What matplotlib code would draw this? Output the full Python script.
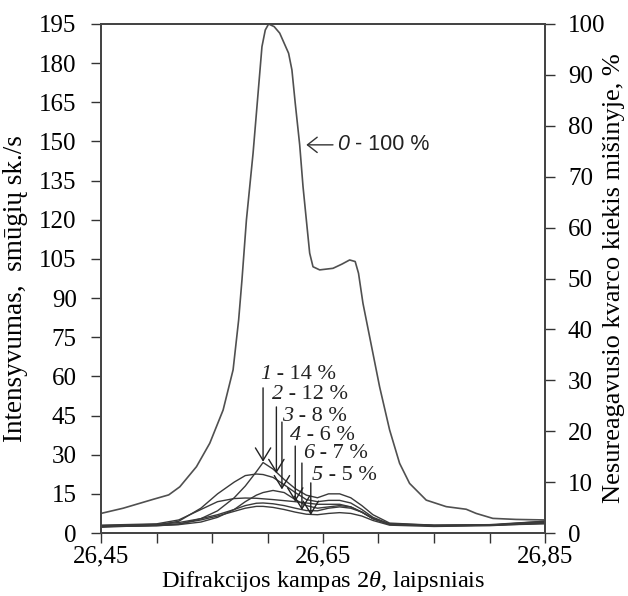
import numpy as np
import matplotlib
matplotlib.use("Agg")
import matplotlib.pyplot as plt

plt.rcParams['font.family'] = ['Liberation Serif', 'DejaVu Serif']
plt.rcParams['mathtext.fontset'] = 'custom'
plt.rcParams['mathtext.rm'] = 'Liberation Serif'
plt.rcParams['mathtext.it'] = 'Liberation Serif:italic'

# ---- data ----
x_0 = [26.450, 26.470, 26.497, 26.511, 26.521, 26.536, 26.548, 26.560, 26.569, 26.574,
       26.577, 26.581, 26.587, 26.592, 26.595, 26.598, 26.601, 26.606, 26.611, 26.619,
       26.622, 26.625, 26.629, 26.632, 26.635, 26.638, 26.641, 26.647, 26.659, 26.667,
       26.674, 26.679, 26.682, 26.686, 26.692, 26.701, 26.710, 26.719, 26.728, 26.743,
       26.761, 26.779, 26.788, 26.803, 26.824, 26.850]
y_0 = [7.5, 9.5, 12.9, 14.6, 17.7, 25.4, 34.4, 47.1, 62.5, 81.6,
       97.0, 119.9, 145.5, 171.0, 186.3, 192.7, 195.0, 194.0, 191.5, 183.8,
       177.4, 164.6, 148.7, 132.7, 119.9, 107.2, 102.0, 100.8, 101.4, 103.0,
       104.6, 104.0, 99.5, 88.0, 75.2, 56.0, 39.5, 26.7, 19.0, 12.6,
       10.1, 9.1, 7.5, 5.6, 5.2, 5.0]

x_s = [26.45, 26.50, 26.52, 26.54, 26.555, 26.57, 26.58, 26.59, 26.596, 26.605,
       26.615, 26.625, 26.635, 26.645, 26.655, 26.665, 26.675, 26.685, 26.695, 26.71,
       26.75, 26.80, 26.85]
y_1 = [2.5, 2.8, 3.3, 5.5, 8.5, 13.5, 18.0, 23.5, 27.0, 24.5,
       20.5, 17.0, 14.5, 13.5, 15.0, 15.0, 13.5, 10.5, 7.0, 3.8,
       3.0, 3.2, 4.5]
y_2 = [2.2, 3.0, 4.5, 9.5, 15.0, 19.5, 22.0, 22.6, 22.4, 21.3,
       18.5, 15.5, 12.8, 12.0, 12.5, 12.5, 11.5, 9.0, 6.0, 3.5,
       2.8, 3.0, 4.5]
y_3 = [2.5, 2.8, 3.2, 4.2, 6.0, 9.0, 12.0, 14.5, 15.5, 16.3,
       15.5, 12.8, 10.5, 9.5, 10.0, 10.5, 10.0, 8.0, 5.5, 3.3,
       2.8, 3.0, 4.0]
y_4 = [3.0, 3.5, 5.0, 9.0, 12.0, 13.2, 13.4, 13.3, 13.1, 12.8,
       12.4, 12.0, 11.5, 11.0, 11.0, 11.0, 10.0, 8.0, 5.5, 3.5,
       3.0, 3.0, 3.5]
y_5 = [2.5, 3.0, 3.5, 5.0, 6.5, 8.3, 9.5, 10.2, 10.2, 9.8,
       9.0, 8.0, 7.2, 7.0, 7.5, 7.8, 7.5, 6.5, 4.8, 3.0,
       2.5, 2.8, 3.8]
y_6 = [2.8, 3.3, 4.0, 5.5, 7.0, 9.0, 10.5, 11.4, 11.5, 11.2,
       10.5, 9.5, 8.6, 8.5, 9.5, 10.0, 9.5, 8.0, 5.5, 3.3,
       2.8, 3.0, 4.0]

label_num = ['1', '2', '3', '4', '6', '5']
label_pct = [' - 14 %', ' - 12 %', ' - 8 %', ' - 6 %', ' - 7 %', ' - 5 %']
tip_x = [26.596, 26.608, 26.613, 26.625, 26.631, 26.639]
tip_y = [27.3, 22.9, 16.7, 12.0, 8.8, 6.9]
tail_y = [55.6, 48.3, 42.5, 33.3, 26.8, 19.2]
text_x = [26.593, 26.604, 26.613, 26.620, 26.632, 26.640]
text_y = [60.9, 52.9, 44.8, 37.5, 30.3, 22.2]

xticks_major = [26.45, 26.65, 26.85]
xtick_labels = ['26,45', '26,65', '26,85']
xticks_minor = [26.50, 26.55, 26.60, 26.70, 26.75, 26.80]
yticks_left = list(range(0, 196, 15))
yticks_right = list(range(0, 101, 10))

# ---- figure ----
fig = plt.figure(figsize=(6.28, 5.96), dpi=100)
ax = fig.add_axes([101/628, 1-533/596, 444/628, 509/596])

ax.plot(x_0, y_0, color='#505050', lw=1.2)
for ys in [y_1, y_2, y_3, y_4, y_5, y_6]:
    ax.plot(x_s, ys, color='#3a3a3a', lw=1.0)

ax.set_xlim(26.45, 26.85)
ax.set_ylim(0, 195)
ax.set_xticks(xticks_major)
ax.set_xticklabels(xtick_labels)
ax.set_xticks(xticks_minor, minor=True)
ax.set_yticks(yticks_left)

fs = 18
ax.tick_params(axis='y', which='both', direction='out', length=7.5, width=1,
               labelsize=fs, color='#333333', pad=10)
ax.tick_params(axis='x', which='both', direction='out', length=7, width=1,
               labelsize=fs, color='#333333', pad=2)
for s in ax.spines.values():
    s.set_linewidth(1.3)
    s.set_color('#444444')

ax2 = ax.twinx()
ax2.set_ylim(0, 100)
ax2.set_yticks(yticks_right)
ax2.tick_params(axis='y', direction='out', length=7.5, width=1, labelsize=fs,
                color='#333333', pad=9)
for s in ax2.spines.values():
    s.set_linewidth(1.3)
    s.set_color('#444444')

ax.set_ylabel('Intensyvumas,  smūgių sk./s', fontsize=19.5)
ax.yaxis.set_label_coords(-0.164, 0.48)
ax2.set_ylabel('Nesureagavusio kvarco kiekis mišinyje, %', fontsize=19)
ax2.yaxis.set_label_coords(1.13, 0.5)
ax.set_xlabel(r'Difrakcijos kampas 2$\theta$, laipsniais', fontsize=17.5)
ax.xaxis.set_label_coords(0.5, -0.07)

# small-curve labels with arrows
for i in range(len(label_num)):
    ax.annotate('', xy=(tip_x[i], tip_y[i]), xytext=(tip_x[i], tail_y[i]),
                arrowprops=dict(arrowstyle='->,head_length=0.9,head_width=0.55',
                                color='#222222', lw=1.0, mutation_scale=10,
                                shrinkA=0, shrinkB=0))
    t0 = ax.text(text_x[i], text_y[i], label_num[i], fontsize=16, style='italic',
                 ha='left', va='center', color='#222222')
    ax.annotate(label_pct[i], xy=(1, 0), xycoords=t0, ha='left', va='bottom',
                fontsize=16, color='#222222')

# main curve label
ax.annotate('', xy=(26.635, 148.7), xytext=(26.659, 148.7),
            arrowprops=dict(arrowstyle='->,head_length=0.7,head_width=0.55',
                            color='#333333', lw=1.0, mutation_scale=10,
                            shrinkA=0, shrinkB=0))
t0 = ax.text(26.6625, 148.7, '0', fontsize=15.5, style='italic', ha='left', va='center',
             family=['Liberation Sans', 'DejaVu Sans'], color='#222222')
ax.annotate(' - 100 %', xy=(1, 0), xycoords=t0, ha='left', va='bottom', fontsize=15.5,
            family=['Liberation Sans', 'DejaVu Sans'], color='#222222')

fig.savefig('out.png', dpi=100)
